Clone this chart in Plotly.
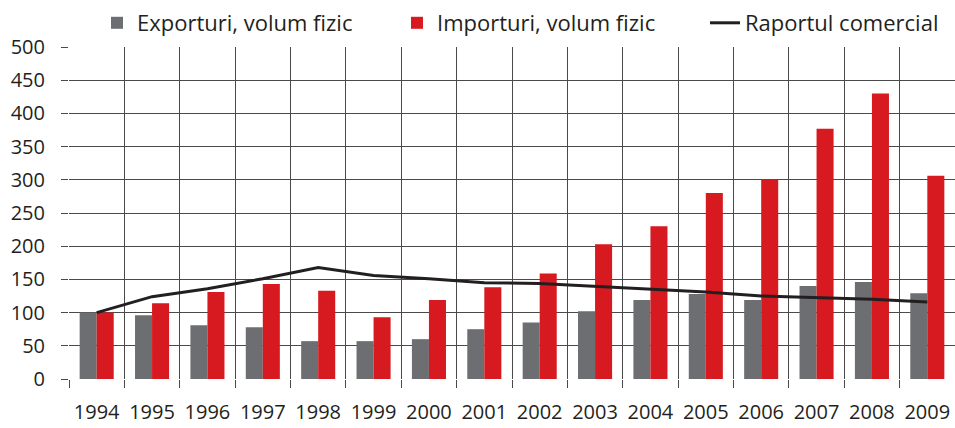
import plotly.graph_objects as go

years = ["1994", "1995", "1996", "1997", "1998", "1999", "2000", "2001",
         "2002", "2003", "2004", "2005", "2006", "2007", "2008", "2009"]
exports = [100, 96, 81, 78, 57, 57, 60, 75, 85, 102, 119, 128, 119, 140, 146, 129]
imports = [100, 114, 131, 143, 133, 93, 119, 138, 159, 203, 230, 280, 301, 377, 430, 306]
ratio = [100, 124, 136, 151, 168, 156, 151, 145, 144, 140, 136, 131, 125, 123, 120, 116]
y_ticks = [0, 50, 100, 150, 200, 250, 300, 350, 400, 450, 500]

FONT = "Open Sans"
GRID = "#4a4a4a"
TXT = "#231f20"
W, H = 955, 428

fig = go.Figure()
fig.add_trace(go.Bar(x=years, y=exports, name="Exporturi, volum fizic",
                     marker=dict(color="#6d6e72", line=dict(width=0)), legend="legend"))
fig.add_trace(go.Bar(x=years, y=imports, name="Importuri, volum fizic",
                     marker=dict(color="#d71920", line=dict(width=0)), legend="legend2"))
fig.add_trace(go.Scatter(x=years, y=ratio, name="Raportul comercial", mode="lines",
                         line=dict(color=TXT, width=3), legend="legend3"))

def leg(px):
    return dict(orientation="h", xref="container", yref="container",
                x=px / W, y=1 - 23 / H, xanchor="left", yanchor="middle",
                font=dict(family=FONT, size=22, color=TXT),
                bgcolor="rgba(0,0,0,0)", borderwidth=0)

fig.update_layout(
    width=W, height=H,
    margin=dict(l=69, r=0, t=47, b=H - 379, autoexpand=False),
    paper_bgcolor="white", plot_bgcolor="white",
    barmode="group", bargap=0.385, bargroupgap=0,
    font=dict(family=FONT, size=20, color=TXT),
    showlegend=True,
    legend=leg(97),
    legend2=leg(397),
    legend3=leg(705),
    xaxis=dict(type="category", range=[-0.5, 15.5], tickson="boundaries",
               showgrid=True, gridcolor=GRID, gridwidth=1.2,
               ticks="outside", ticklen=8, tickcolor=GRID, tickwidth=1.2,
               tickangle=0, ticklabelstandoff=19, tickfont=dict(size=20),
               showline=False, zeroline=False, automargin=False),
    yaxis=dict(range=[0, 500], tickvals=y_ticks, showgrid=True,
               gridcolor=GRID, gridwidth=1.2,
               ticks="outside", ticklen=7, tickcolor=GRID, tickwidth=1.2,
               ticklabelstandoff=12, tickfont=dict(size=20),
               showline=False, zeroline=False, automargin=False),
)

fig.write_html(
    "out.html",
    config={"displayModeBar": False},
    post_script="document.body.style.margin='0px';document.body.style.overflow='hidden';",
)
